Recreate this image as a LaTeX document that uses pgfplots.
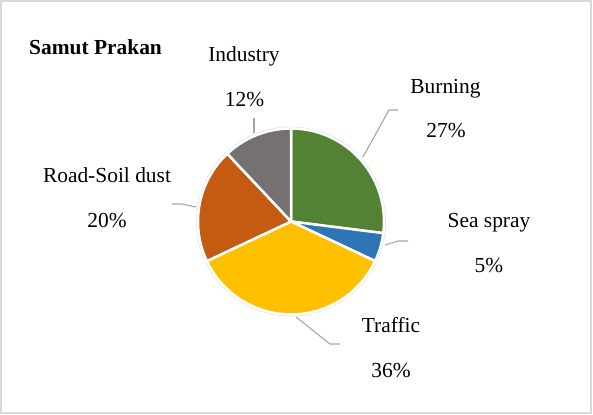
\documentclass[border=0pt]{standalone}
\usepackage{pgfplots}
\pgfplotsset{compat=1.18}
\usepackage{fontspec}
\setmainfont{Liberation Serif}
\definecolor{cBurn}{HTML}{548235}
\definecolor{cSea}{HTML}{2E75B6}
\definecolor{cTraf}{HTML}{FFC000}
\definecolor{cRoad}{HTML}{C55A11}
\definecolor{cInd}{HTML}{767171}
\definecolor{cLead}{HTML}{A6A6A6}
\definecolor{cFrame}{HTML}{D9D9D9}
\tikzset{lab/.style={font=\fontsize{21.5}{26}\selectfont, anchor=base, inner sep=0pt}}
% shares (percent)
\def\pBurn{27}\def\pSea{5}\def\pTraf{36}\def\pRoad{20}\def\pInd{12}
\pgfmathsetmacro\aA{90}
\pgfmathsetmacro\aB{\aA-3.6*\pBurn}
\pgfmathsetmacro\aC{\aB-3.6*\pSea}
\pgfmathsetmacro\aD{\aC-3.6*\pTraf}
\pgfmathsetmacro\aE{\aD-3.6*\pRoad}
\pgfmathsetmacro\aF{\aE-3.6*\pInd}
\def\cx{291}\def\cy{193.5}\def\R{93}
\newcommand\slice[3]{% #1 start (larger), #2 end (smaller), #3 colour
  \addplot[fill=#3, draw=white, line width=2.5bp, samples=300, domain=#2-1:#1+1, variable=\t]
   ({\cx+ifthenelse(\t<#2-0.5 || \t>#1+0.5,0,\R)*cos(min(max(\t,#2),#1))},
    {\cy+ifthenelse(\t<#2-0.5 || \t>#1+0.5,0,\R)*sin(min(max(\t,#2),#1))});
}
\begin{document}
\begin{tikzpicture}
\path[use as bounding box] (0,0) rectangle (593bp,415bp);
\begin{axis}[x=1bp, y=1bp, xmin=0, xmax=593, ymin=0, ymax=415,
  hide axis, clip=false, anchor=origin, at={(0,0)}]
  % frame
  \draw[cFrame, line width=2bp] (axis cs:1,2.5) rectangle (axis cs:591,414);
  % soft shadow ring
  \addplot[fill=black!10, draw=none, domain=0:360, samples=180]
    ({\cx+95*cos(x)},{\cy+95*sin(x)});
  \slice{\aA}{\aB}{cBurn}
  \slice{\aB}{\aC}{cSea}
  \slice{\aC}{\aD}{cTraf}
  \slice{\aD}{\aE}{cRoad}
  \slice{\aE}{\aF}{cInd}
  % leader lines
  \addplot[cLead, line width=1.1bp] coordinates {(363,258) (389,305) (398,305)};
  \addplot[cLead, line width=1.1bp] coordinates {(385,170) (398,174) (408,174)};
  \addplot[cLead, line width=1.1bp] coordinates {(296,98) (330,71) (340,71)};
  \addplot[cLead, line width=1.1bp] coordinates {(172,211) (182,211) (196,208)};
  \addplot[cLead, line width=1.1bp] coordinates {(254,282) (254,297)};
  % labels
  \node[lab, anchor=base west, font=\fontsize{21.5}{26}\selectfont\bfseries] at (axis cs:29,361) {Samut Prakan};
  \node[lab] at (axis cs:244,354) {Industry};
  \node[lab] at (axis cs:244.5,309) {12\%};
  \node[lab] at (axis cs:445.5,322) {Burning};
  \node[lab] at (axis cs:446,278) {27\%};
  \node[lab] at (axis cs:489,188) {Sea spray};
  \node[lab] at (axis cs:489,143) {5\%};
  \node[lab] at (axis cs:391,83) {Traffic};
  \node[lab] at (axis cs:391,38) {36\%};
  \node[lab] at (axis cs:107,233) {Road-Soil dust};
  \node[lab] at (axis cs:107,188) {20\%};
\end{axis}
\end{tikzpicture}
\end{document}
